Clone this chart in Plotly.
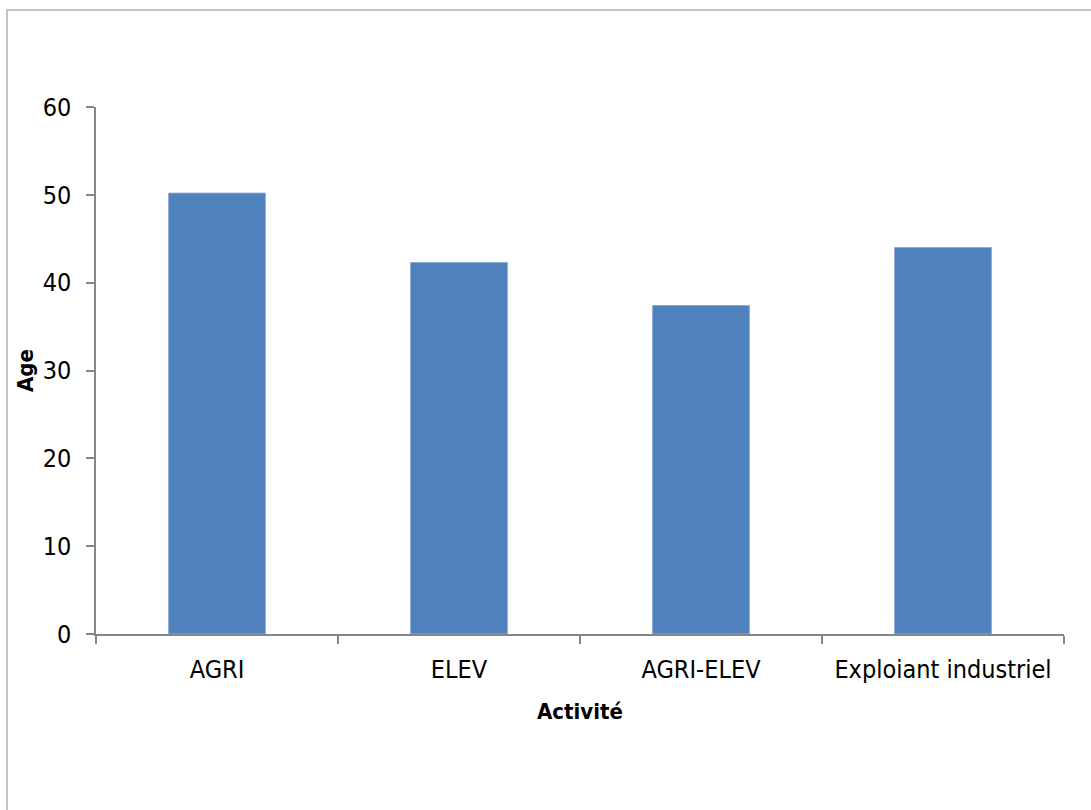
import plotly.graph_objects as go

# Average age by activity
activites = ["AGRI", "ELEV", "AGRI-ELEV", "Exploiant industriel"]
ages = [50.2, 42.3, 37.4, 44.0]
y_ticks = [0, 10, 20, 30, 40, 50, 60]

FONT = "DejaVu Sans Condensed, DejaVu Sans, sans-serif"
AXIS_GREY = "#868686"

W, H = 1091, 810
L, R, T, B = 96, 27, 107, 176
plot_w = W - L - R
plot_h = H - T - B

fig = go.Figure(
    go.Bar(
        x=activites,
        y=ages,
        width=0.4,
        marker=dict(color="#4F81BD", line=dict(color="#8EAAD6", width=1)),
    )
)

fig.update_layout(
    width=W,
    height=H,
    margin=dict(l=L, r=R, t=T, b=B),
    paper_bgcolor="white",
    plot_bgcolor="white",
    showlegend=False,
    font=dict(family=FONT, size=25, color="#000000"),
)

fig.update_xaxes(
    showline=True,
    linecolor=AXIS_GREY,
    linewidth=1.5,
    ticks="outside",
    tickson="boundaries",
    ticklen=8,
    tickcolor=AXIS_GREY,
    tickwidth=1.5,
    showgrid=False,
    ticklabelstandoff=12,
    tickfont=dict(family=FONT, size=25),
)

fig.update_yaxes(
    range=[0, 60],
    tickvals=y_ticks,
    showline=True,
    linecolor=AXIS_GREY,
    linewidth=1.5,
    ticks="outside",
    ticklen=8,
    tickcolor=AXIS_GREY,
    tickwidth=1.5,
    showgrid=False,
    zeroline=False,
    ticklabelstandoff=10,
    tickfont=dict(family=FONT, size=25),
)

# Axis titles
fig.add_annotation(
    text="<b>Activité</b>",
    xref="paper", yref="paper",
    x=(580 - L) / plot_w, y=(H - B - 711) / plot_h,
    xanchor="center", yanchor="middle",
    showarrow=False,
    font=dict(family=FONT, size=22),
)
fig.add_annotation(
    text="<b>Age</b>",
    xref="paper", yref="paper",
    x=(25 - L) / plot_w, y=(H - B - 371) / plot_h,
    xanchor="center", yanchor="middle",
    textangle=-90,
    showarrow=False,
    font=dict(family=FONT, size=22),
)

# Chart area frame
fig.add_shape(
    type="rect",
    xref="paper", yref="paper",
    x0=(7 - L) / plot_w, x1=(W + 20 - L) / plot_w,
    y0=(H - B - (H + 20)) / plot_h, y1=(H - B - 10) / plot_h,
    line=dict(color="#B0B0B0", width=1.5),
    fillcolor="rgba(0,0,0,0)",
    layer="below",
)

fig.write_html("out.html")
